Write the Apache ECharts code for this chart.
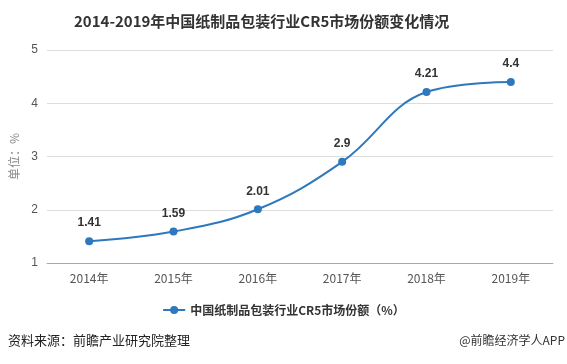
<!DOCTYPE html>
<html><head><meta charset="utf-8">
<script src="https://cdn.jsdelivr.net/npm/echarts@6/dist/echarts.min.js"></script>
<style>html,body{margin:0;padding:0;background:#fff}#c{width:567px;height:364px}</style>
</head><body><div id="c"></div>
<script>
const categories = ['2014年','2015年','2016年','2017年','2018年','2019年'];
const values = [1.41, 1.59, 2.01, 2.9, 4.21, 4.4];
const seriesName = '中国纸制品包装行业CR5市场份额（%）';
const titleText = '2014-2019年中国纸制品包装行业CR5市场份额变化情况';
const sourceText = '资料来源：前瞻产业研究院整理';
const brandText = '@前瞻经济学人APP';
const color = '#2e78bd';
const chart = echarts.init(document.getElementById('c'));
chart.setOption({
  animation: false,
  title: {text: titleText, left: 69, top: 9, textStyle: {fontSize: 15, fontWeight: 'bold', color: '#333', fontFamily: 'Noto Sans CJK SC'}},
  grid: {left: 47, right: 14, top: 50, bottom: 101},
  legend: {bottom: 43, left: 'center', itemWidth: 22, itemHeight: 10, textStyle: {fontSize: 12, fontWeight: 'bold', color: '#333', fontFamily: 'Noto Sans CJK SC'}, data: [seriesName]},
  xAxis: {type: 'category', data: categories, boundaryGap: true,
    axisLine: {lineStyle: {color: '#aaa'}}, axisTick: {alignWithLabel: true, lineStyle: {color: '#aaa'}},
    axisLabel: {color: '#555', fontSize: 12, margin: 9, fontFamily: 'Noto Sans CJK SC'}},
  yAxis: {type: 'value', min: 1, max: 5, interval: 1, name: '单位：%', nameLocation: 'middle', nameGap: 27,
    nameTextStyle: {color: '#888', fontSize: 12, fontFamily: 'Noto Sans CJK SC'},
    axisLine: {show: false}, axisTick: {show: false},
    axisLabel: {color: '#555', fontSize: 12, margin: 9},
    splitLine: {lineStyle: {color: '#ddd'}}},
  series: [{name: seriesName, type: 'line', data: values, smooth: 0.4, symbol: 'circle', symbolSize: 8,
    itemStyle: {color: color}, lineStyle: {color: color, width: 2},
    label: {show: true, position: 'top', distance: 8, fontWeight: 'bold', fontSize: 12, color: '#333'}}],
  graphic: [
    {type: 'text', left: 8, top: 334, style: {text: sourceText, fontSize: 13, fill: '#222', fontFamily: 'Noto Sans CJK SC'}},
    {type: 'text', right: 2, top: 334, style: {text: brandText, fontSize: 12, fill: '#333', fontFamily: 'Noto Sans CJK SC'}}
  ]
});
</script></body></html>
